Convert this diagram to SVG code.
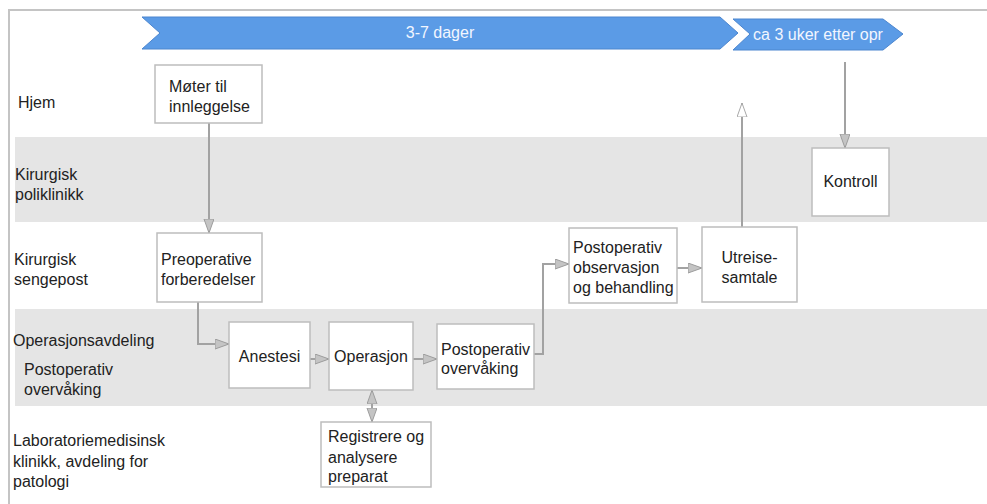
<svg xmlns="http://www.w3.org/2000/svg" width="987" height="504" viewBox="0 0 987 504">
  <defs>
    <style>
      text { font-family: "Liberation Sans", Arial, sans-serif; font-size: 16px; fill: #222; }
      .band { fill: #e5e5e5; }
      .frame { stroke: #c4c4c4; stroke-width: 2; fill: none; }
      .box { fill: #fff; stroke: #bdbdbd; stroke-width: 1.5; }
      .chev { fill: #5b9be6; stroke: #4c86cf; stroke-width: 1; }
      .chev-text { fill: #f2f6ff; font-size: 16px; }
      .conn { fill: none; stroke: #a2a2a2; stroke-width: 2; }
    </style>
    <marker id="arrow" markerUnits="userSpaceOnUse" markerWidth="16" markerHeight="12" refX="14" refY="5" orient="auto-start-reverse" viewBox="0 0 16 12">
      <path d="M0,0 L14,5 L0,10 z" fill="#c4c4c4" stroke="#9c9c9c" stroke-width="1"/>
    </marker>
    <marker id="arrow-open" markerUnits="userSpaceOnUse" markerWidth="16" markerHeight="12" refX="14" refY="5" orient="auto" viewBox="0 0 16 12">
      <path d="M0,0 L14,5 L0,10 z" fill="#fff" stroke="#a8a8a8" stroke-width="1"/>
    </marker>
  </defs>

  <rect width="987" height="504" fill="#fff"/>

  <!-- swimlane bands -->
  <rect class="band" x="15" y="137" width="972" height="85"/>
  <rect class="band" x="15" y="309" width="972" height="97"/>

  <!-- outer frame (top and left edges) -->
  <path class="frame" d="M9,504 V10 H987"/>

  <!-- timeline chevrons -->
  <g id="timeline">
    <polygon class="chev" points="142,17 720,17 738,33 720,49 142,49 160,33"/>
    <text class="chev-text" x="440" y="38" text-anchor="middle">3-7 dager</text>
    <polygon class="chev" points="733,19 883,19 903,34 883,50 733,50 750,34"/>
    <text class="chev-text" x="818" y="40" text-anchor="middle">ca 3 uker etter opr</text>
  </g>

  <!-- lane labels -->
  <g id="lane-labels">
    <text x="18" y="108">Hjem</text>
    <text x="15" y="180">Kirurgisk</text>
    <text x="15" y="200">poliklinikk</text>
    <text x="14" y="265">Kirurgisk</text>
    <text x="14" y="285">sengepost</text>
    <text x="13" y="346">Operasjonsavdeling</text>
    <text x="24" y="375">Postoperativ</text>
    <text x="24" y="395">overvåking</text>
    <text x="13" y="446">Laboratoriemedisinsk</text>
    <text x="13" y="467">klinikk, avdeling for</text>
    <text x="13" y="487">patologi</text>
  </g>

  <!-- connectors -->
  <g id="connectors">
    <path class="conn" d="M209,123 V233" marker-end="url(#arrow)"/>
    <path class="conn" d="M198,302 V344 H229" marker-end="url(#arrow)"/>
    <path class="conn" d="M310,359 H329" marker-end="url(#arrow)"/>
    <path class="conn" d="M413,359 H437" marker-end="url(#arrow)"/>
    <path class="conn" d="M534,354 H543 V264 H569" marker-end="url(#arrow)"/>
    <path class="conn" d="M677,268 H702" marker-end="url(#arrow)"/>
    <path class="conn" d="M742,227 V103" marker-end="url(#arrow-open)"/>
    <path class="conn" d="M845,62 V148" marker-end="url(#arrow)"/>
    <path class="conn" d="M372,390 V422" marker-start="url(#arrow)" marker-end="url(#arrow)"/>
  </g>

  <!-- process nodes -->
  <g id="node-moter">
    <rect class="box" x="155" y="65" width="107" height="58"/>
    <text x="169" y="92">Møter til</text>
    <text x="169" y="112">innleggelse</text>
  </g>
  <g id="node-preop">
    <rect class="box" x="157" y="233" width="105" height="69"/>
    <text x="161" y="265">Preoperative</text>
    <text x="161" y="285">forberedelser</text>
  </g>
  <g id="node-anestesi">
    <rect class="box" x="229" y="322" width="81" height="66"/>
    <text x="269.5" y="362" text-anchor="middle">Anestesi</text>
  </g>
  <g id="node-operasjon">
    <rect class="box" x="329" y="322" width="84" height="68"/>
    <text x="371" y="362" text-anchor="middle">Operasjon</text>
  </g>
  <g id="node-postop-overvaking">
    <rect class="box" x="437" y="324" width="97" height="65"/>
    <text x="441" y="355">Postoperativ</text>
    <text x="441" y="374">overvåking</text>
  </g>
  <g id="node-registrere">
    <rect class="box" x="321" y="422" width="110" height="65"/>
    <text x="328" y="442">Registrere og</text>
    <text x="328" y="463">analysere</text>
    <text x="328" y="482">preparat</text>
  </g>
  <g id="node-postop-observasjon">
    <rect class="box" x="569" y="228" width="108" height="75"/>
    <text x="573" y="253">Postoperativ</text>
    <text x="573" y="273">observasjon</text>
    <text x="573" y="293">og behandling</text>
  </g>
  <g id="node-utreise">
    <rect class="box" x="702" y="227" width="95" height="75"/>
    <text x="749.5" y="263" text-anchor="middle">Utreise-</text>
    <text x="749.5" y="283" text-anchor="middle">samtale</text>
  </g>
  <g id="node-kontroll">
    <rect class="box" x="812" y="148" width="77" height="68"/>
    <text x="850.5" y="187" text-anchor="middle">Kontroll</text>
  </g>
</svg>
